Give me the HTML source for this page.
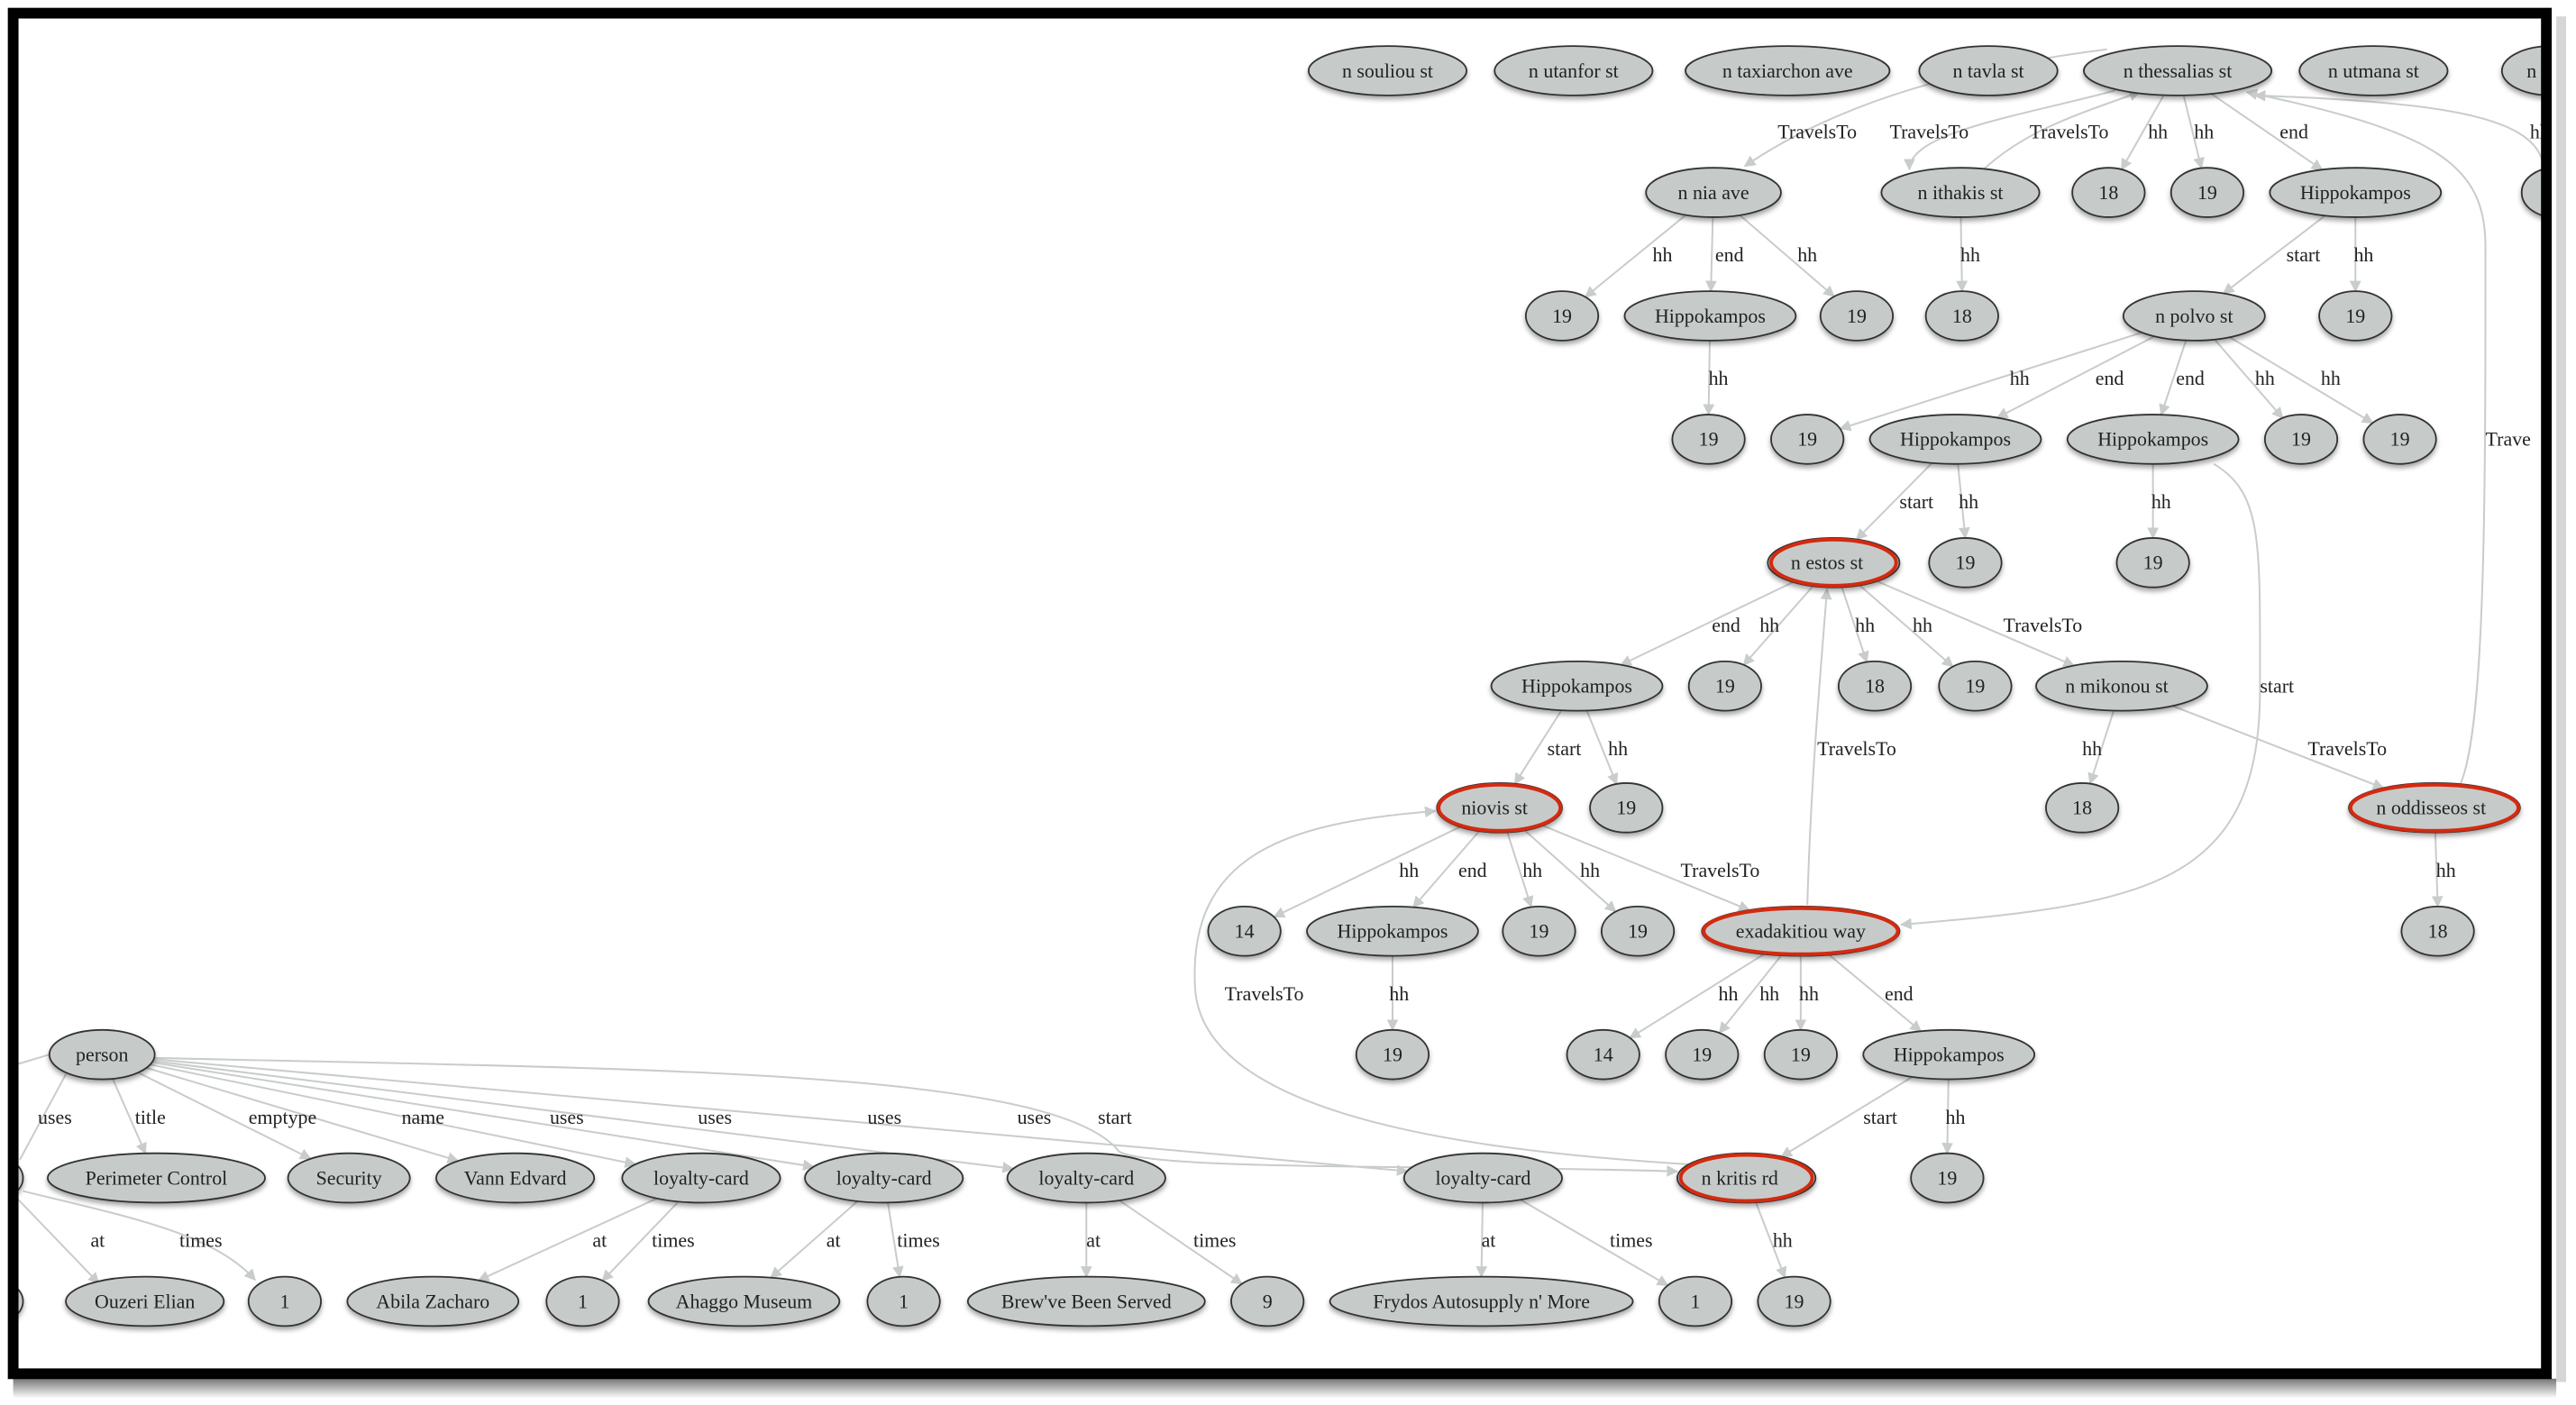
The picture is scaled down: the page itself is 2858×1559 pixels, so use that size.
<!DOCTYPE html>
<html><head><meta charset="utf-8"><style>
html,body{margin:0;padding:0;background:#fff;width:2858px;height:1559px;overflow:hidden}
svg{display:block}
.n ellipse.b{fill:#c6cbca;stroke:#333;stroke-width:1}
text{font-family:"Liberation Serif","DejaVu Serif",serif;font-size:12px;fill:#222}
.n text{text-anchor:middle}
.e,.s line{stroke:#c9cccc;stroke-width:1.1;fill:none}
</style></head><body>
<svg width="2858" height="1559" viewBox="0 0 1565 854" preserveAspectRatio="none" xmlns="http://www.w3.org/2000/svg">
<defs>
<marker id="a" viewBox="0 0 10 10" refX="9" refY="5" markerWidth="7" markerHeight="7" orient="auto" markerUnits="userSpaceOnUse"><path d="M0,0 L10,5 L0,10 z" fill="#c9cccc"/></marker>
<filter id="sh" x="-20%" y="-30%" width="140%" height="170%"><feDropShadow dx="0" dy="2" stdDeviation="1.5" flood-color="#000" flood-opacity="0.35"/></filter>
<clipPath id="cp"><rect x="11" y="11" width="1533" height="821"/></clipPath>
<linearGradient id="bs" x1="0" y1="0" x2="0" y2="1"><stop offset="0" stop-color="#777"/><stop offset="1" stop-color="#fff"/></linearGradient>
</defs>
<rect x="8" y="838" width="1545" height="12" fill="url(#bs)"/>
<rect x="1553" y="10" width="6" height="830" fill="#bbb" opacity="0.6"/>
<g clip-path="url(#cp)">
<g class="s" marker-end="url(#a)">
<line x1="1041" y1="117" x2="963.1" y2="180.5"/>
<line x1="1041" y1="117" x2="1039.4" y2="177"/>
<line x1="1041" y1="117" x2="1114.3" y2="180.2"/>
<line x1="1191" y1="117" x2="1192" y2="177"/>
<line x1="1323" y1="43" x2="1288.9" y2="103"/>
<line x1="1323" y1="43" x2="1337.4" y2="102.2"/>
<line x1="1323" y1="43" x2="1410.8" y2="103.2"/>
<line x1="1431" y1="117" x2="1350.8" y2="178.4"/>
<line x1="1431" y1="117" x2="1431" y2="177"/>
<line x1="1039" y1="192" x2="1038" y2="252"/>
<line x1="1333" y1="192" x2="1118" y2="260.6"/>
<line x1="1333" y1="192" x2="1213.4" y2="253.9"/>
<line x1="1333" y1="192" x2="1313" y2="252.1"/>
<line x1="1333" y1="192" x2="1386.8" y2="254.1"/>
<line x1="1333" y1="192" x2="1441.5" y2="257.1"/>
<line x1="1188" y1="267" x2="1127.9" y2="327.9"/>
<line x1="1188" y1="267" x2="1194" y2="327"/>
<line x1="1308" y1="267" x2="1308" y2="327"/>
<line x1="1114" y1="342" x2="984.7" y2="404.2"/>
<line x1="1114" y1="342" x2="1059.3" y2="404.2"/>
<line x1="1114" y1="342" x2="1134.1" y2="402.4"/>
<line x1="1114" y1="342" x2="1186.4" y2="405.2"/>
<line x1="1114" y1="342" x2="1260" y2="404.6"/>
<line x1="958" y1="417" x2="920.3" y2="476.4"/>
<line x1="958" y1="417" x2="982.1" y2="476.6"/>
<line x1="1289" y1="417" x2="1269.8" y2="476.3"/>
<line x1="1289" y1="417" x2="1448" y2="479"/>
<line x1="1479" y1="491" x2="1481" y2="551"/>
<line x1="911" y1="491" x2="774" y2="557.3"/>
<line x1="911" y1="491" x2="858.6" y2="551.4"/>
<line x1="911" y1="491" x2="930.2" y2="551.1"/>
<line x1="911" y1="491" x2="981.6" y2="554.1"/>
<line x1="911" y1="491" x2="1062.7" y2="553.2"/>
<line x1="846" y1="566" x2="846" y2="626"/>
<line x1="1094" y1="566" x2="990.2" y2="630.9"/>
<line x1="1094" y1="566" x2="1044.6" y2="627.8"/>
<line x1="1094" y1="566" x2="1094" y2="626"/>
<line x1="1094" y1="566" x2="1167" y2="626.8"/>
<line x1="1184" y1="641" x2="1082.2" y2="703.1"/>
<line x1="1184" y1="641" x2="1183" y2="701"/>
<line x1="1061" y1="716" x2="1084.4" y2="776.5"/>
<line x1="62" y1="641" x2="88.4" y2="701.1"/>
<line x1="62" y1="641" x2="188.7" y2="704.3"/>
<line x1="62" y1="641" x2="278.3" y2="705.6"/>
<line x1="62" y1="641" x2="386" y2="707.7"/>
<line x1="62" y1="641" x2="494.2" y2="709.2"/>
<line x1="62" y1="641" x2="615.4" y2="710.4"/>
<line x1="62" y1="641" x2="855" y2="711.9"/>
<line x1="426" y1="716" x2="290.7" y2="778.3"/>
<line x1="426" y1="716" x2="366" y2="778.5"/>
<line x1="537" y1="716" x2="468.3" y2="776.6"/>
<line x1="537" y1="716" x2="546.6" y2="776.1"/>
<line x1="660" y1="716" x2="660" y2="776"/>
<line x1="660" y1="716" x2="754.5" y2="780.4"/>
<line x1="901" y1="716" x2="900" y2="776"/>
<line x1="901" y1="716" x2="1013.2" y2="781.3"/>
</g>
<path class="e" d="M1280,30 C1200,40 1120,60 1060,101" marker-end="url(#a)"/>
<path class="e" d="M1285,55 C1230,70 1160,80 1160,103" marker-end="url(#a)"/>
<path class="e" d="M1205,103 C1230,80 1260,70 1300,56" marker-end="url(#a)"/>
<path class="e" d="M1545,100 C1540,70 1480,62 1370,58" marker-end="url(#a)"/>
<path class="e" d="M1495,476 C1510,440 1510,300 1510,150 C1510,100 1480,80 1365,56" marker-end="url(#a)"/>
<path class="e" d="M1345,282 C1375,300 1373,330 1373,420 C1373,540 1300,550 1155,562" marker-end="url(#a)"/>
<path class="e" d="M1098,550 C1100,480 1105,420 1110,358" marker-end="url(#a)"/>
<path class="e" d="M1030,708 C900,700 730,680 726,600 C722,520 780,500 872,493" marker-end="url(#a)"/>
<path class="e" d="M92,643 C400,650 640,650 680,700 C700,712 900,708 1019,712" marker-end="url(#a)"/>
<path class="e" d="M30,641 L0,650"/>
<path class="e" d="M40,653 L12,705"/>
<path class="e" d="M10,728 L60,780" marker-end="url(#a)"/>
<path class="e" d="M14,724 C80,740 130,750 155,778" marker-end="url(#a)"/>
<g class="n" filter="url(#sh)">
<ellipse class="b" cx="843" cy="43" rx="48" ry="15"/><ellipse class="b" cx="956" cy="43" rx="48" ry="15"/><ellipse class="b" cx="1086" cy="43" rx="62" ry="15"/><ellipse class="b" cx="1208" cy="43" rx="42" ry="15"/><ellipse class="b" cx="1323" cy="43" rx="57" ry="15"/><ellipse class="b" cx="1442" cy="43" rx="45" ry="15"/><ellipse class="b" cx="1550" cy="43" rx="30" ry="15"/>
<ellipse class="b" cx="1041" cy="117" rx="41" ry="15"/><ellipse class="b" cx="1191" cy="117" rx="48" ry="15"/><ellipse class="b" cx="1281" cy="117" rx="22" ry="15"/><ellipse class="b" cx="1341" cy="117" rx="22" ry="15"/><ellipse class="b" cx="1431" cy="117" rx="52" ry="15"/><ellipse class="b" cx="1552" cy="117" rx="20" ry="15"/>
<ellipse class="b" cx="949" cy="192" rx="22" ry="15"/><ellipse class="b" cx="1039" cy="192" rx="52" ry="15"/><ellipse class="b" cx="1128" cy="192" rx="22" ry="15"/><ellipse class="b" cx="1192" cy="192" rx="22" ry="15"/><ellipse class="b" cx="1333" cy="192" rx="43" ry="15"/><ellipse class="b" cx="1431" cy="192" rx="22" ry="15"/>
<ellipse class="b" cx="1038" cy="267" rx="22" ry="15"/><ellipse class="b" cx="1098" cy="267" rx="22" ry="15"/><ellipse class="b" cx="1188" cy="267" rx="52" ry="15"/><ellipse class="b" cx="1308" cy="267" rx="52" ry="15"/><ellipse class="b" cx="1398" cy="267" rx="22" ry="15"/><ellipse class="b" cx="1458" cy="267" rx="22" ry="15"/>
<ellipse class="b" cx="1114" cy="342" rx="40" ry="15"/><ellipse class="b" cx="1194" cy="342" rx="22" ry="15"/><ellipse class="b" cx="1308" cy="342" rx="22" ry="15"/>
<ellipse class="b" cx="958" cy="417" rx="52" ry="15"/><ellipse class="b" cx="1048" cy="417" rx="22" ry="15"/><ellipse class="b" cx="1139" cy="417" rx="22" ry="15"/><ellipse class="b" cx="1200" cy="417" rx="22" ry="15"/><ellipse class="b" cx="1289" cy="417" rx="52" ry="15"/>
<ellipse class="b" cx="911" cy="491" rx="38" ry="15"/><ellipse class="b" cx="988" cy="491" rx="22" ry="15"/><ellipse class="b" cx="1265" cy="491" rx="22" ry="15"/><ellipse class="b" cx="1479" cy="491" rx="52" ry="15"/>
<ellipse class="b" cx="756" cy="566" rx="22" ry="15"/><ellipse class="b" cx="846" cy="566" rx="52" ry="15"/><ellipse class="b" cx="935" cy="566" rx="22" ry="15"/><ellipse class="b" cx="995" cy="566" rx="22" ry="15"/><ellipse class="b" cx="1094" cy="566" rx="60" ry="15"/><ellipse class="b" cx="1481" cy="566" rx="22" ry="15"/>
<ellipse class="b" cx="62" cy="641" rx="32" ry="15"/><ellipse class="b" cx="846" cy="641" rx="22" ry="15"/><ellipse class="b" cx="974" cy="641" rx="22" ry="15"/><ellipse class="b" cx="1034" cy="641" rx="22" ry="15"/><ellipse class="b" cx="1094" cy="641" rx="22" ry="15"/><ellipse class="b" cx="1184" cy="641" rx="52" ry="15"/>
<ellipse class="b" cx="-10" cy="716" rx="24" ry="15"/><ellipse class="b" cx="95" cy="716" rx="66" ry="15"/><ellipse class="b" cx="212" cy="716" rx="37" ry="15"/><ellipse class="b" cx="313" cy="716" rx="48" ry="15"/><ellipse class="b" cx="426" cy="716" rx="48" ry="15"/><ellipse class="b" cx="537" cy="716" rx="48" ry="15"/><ellipse class="b" cx="660" cy="716" rx="48" ry="15"/><ellipse class="b" cx="901" cy="716" rx="48" ry="15"/><ellipse class="b" cx="1061" cy="716" rx="42" ry="15"/><ellipse class="b" cx="1183" cy="716" rx="22" ry="15"/>
<ellipse class="b" cx="-10" cy="791" rx="24" ry="15"/><ellipse class="b" cx="88" cy="791" rx="48" ry="15"/><ellipse class="b" cx="173" cy="791" rx="22" ry="15"/><ellipse class="b" cx="263" cy="791" rx="52" ry="15"/><ellipse class="b" cx="354" cy="791" rx="22" ry="15"/><ellipse class="b" cx="452" cy="791" rx="58" ry="15"/><ellipse class="b" cx="549" cy="791" rx="22" ry="15"/><ellipse class="b" cx="660" cy="791" rx="72" ry="15"/><ellipse class="b" cx="770" cy="791" rx="22" ry="15"/><ellipse class="b" cx="900" cy="791" rx="92" ry="15"/><ellipse class="b" cx="1030" cy="791" rx="22" ry="15"/><ellipse class="b" cx="1090" cy="791" rx="22" ry="15"/>
</g>
<g fill="none" stroke="#d42a10" stroke-width="2.2">
<ellipse cx="1114" cy="342" rx="38" ry="14"/><ellipse cx="911" cy="491" rx="37" ry="14"/><ellipse cx="1479" cy="491" rx="51" ry="14"/><ellipse cx="1094" cy="566" rx="59" ry="14"/><ellipse cx="1061" cy="716" rx="40" ry="14"/>
</g>
<g class="n">
<text x="843" y="47">n souliou st</text><text x="956" y="47">n utanfor st</text><text x="1086" y="47">n taxiarchon ave</text><text x="1208" y="47">n tavla st</text><text x="1323" y="47">n thessalias st</text><text x="1442" y="47">n utmana st</text><text x="1535" y="47" style="text-anchor:start">n ta</text>
<text x="1041" y="121">n nia ave</text><text x="1191" y="121">n ithakis st</text><text x="1281" y="121">18</text><text x="1341" y="121">19</text><text x="1431" y="121">Hippokampos</text>
<text x="949" y="196">19</text><text x="1039" y="196">Hippokampos</text><text x="1128" y="196">19</text><text x="1192" y="196">18</text><text x="1333" y="196">n polvo st</text><text x="1431" y="196">19</text>
<text x="1038" y="271">19</text><text x="1098" y="271">19</text><text x="1188" y="271">Hippokampos</text><text x="1308" y="271">Hippokampos</text><text x="1398" y="271">19</text><text x="1458" y="271">19</text>
<text x="1110" y="346">n estos st</text><text x="1194" y="346">19</text><text x="1308" y="346">19</text>
<text x="958" y="421">Hippokampos</text><text x="1048" y="421">19</text><text x="1139" y="421">18</text><text x="1200" y="421">19</text><text x="1286" y="421">n mikonou st</text>
<text x="908" y="495">niovis st</text><text x="988" y="495">19</text><text x="1265" y="495">18</text><text x="1477" y="495">n oddisseos st</text>
<text x="756" y="570">14</text><text x="846" y="570">Hippokampos</text><text x="935" y="570">19</text><text x="995" y="570">19</text><text x="1094" y="570">exadakitiou way</text><text x="1481" y="570">18</text>
<text x="62" y="645">person</text><text x="846" y="645">19</text><text x="974" y="645">14</text><text x="1034" y="645">19</text><text x="1094" y="645">19</text><text x="1184" y="645">Hippokampos</text>
<text x="95" y="720">Perimeter Control</text><text x="212" y="720">Security</text><text x="313" y="720">Vann Edvard</text><text x="426" y="720">loyalty-card</text><text x="537" y="720">loyalty-card</text><text x="660" y="720">loyalty-card</text><text x="901" y="720">loyalty-card</text><text x="1057" y="720">n kritis rd</text><text x="1183" y="720">19</text>
<text x="88" y="795">Ouzeri Elian</text><text x="173" y="795">1</text><text x="263" y="795">Abila Zacharo</text><text x="354" y="795">1</text><text x="452" y="795">Ahaggo Museum</text><text x="549" y="795">1</text><text x="660" y="795">Brew've Been Served</text><text x="770" y="795">9</text><text x="900" y="795">Frydos Autosupply n' More</text><text x="1030" y="795">1</text><text x="1090" y="795">19</text>
</g>
<g>
<text x="1080" y="84">TravelsTo</text><text x="1148" y="84">TravelsTo</text><text x="1233" y="84">TravelsTo</text><text x="1305" y="84">hh</text><text x="1333" y="84">hh</text><text x="1385" y="84">end</text><text x="1537" y="84">hh</text>
<text x="1004" y="159">hh</text><text x="1042" y="159">end</text><text x="1092" y="159">hh</text><text x="1191" y="159">hh</text><text x="1389" y="159">start</text><text x="1430" y="159">hh</text>
<text x="1038" y="234">hh</text><text x="1221" y="234">hh</text><text x="1273" y="234">end</text><text x="1322" y="234">end</text><text x="1370" y="234">hh</text><text x="1410" y="234">hh</text><text x="1510" y="271">Trave</text>
<text x="1154" y="309">start</text><text x="1190" y="309">hh</text><text x="1307" y="309">hh</text>
<text x="1040" y="384">end</text><text x="1069" y="384">hh</text><text x="1127" y="384">hh</text><text x="1162" y="384">hh</text><text x="1217" y="384">TravelsTo</text>
<text x="1373" y="421">start</text>
<text x="940" y="459">start</text><text x="977" y="459">hh</text><text x="1104" y="459">TravelsTo</text><text x="1265" y="459">hh</text><text x="1402" y="459">TravelsTo</text>
<text x="850" y="533">hh</text><text x="886" y="533">end</text><text x="925" y="533">hh</text><text x="960" y="533">hh</text><text x="1021" y="533">TravelsTo</text><text x="1480" y="533">hh</text>
<text x="744" y="608">TravelsTo</text><text x="844" y="608">hh</text><text x="1044" y="608">hh</text><text x="1069" y="608">hh</text><text x="1093" y="608">hh</text><text x="1145" y="608">end</text>
<text x="23" y="683">uses</text><text x="82" y="683">title</text><text x="151" y="683">emptype</text><text x="244" y="683">name</text><text x="334" y="683">uses</text><text x="424" y="683">uses</text><text x="527" y="683">uses</text><text x="618" y="683">uses</text><text x="667" y="683">start</text><text x="1132" y="683">start</text><text x="1182" y="683">hh</text>
<text x="55" y="758">at</text><text x="109" y="758">times</text><text x="360" y="758">at</text><text x="396" y="758">times</text><text x="502" y="758">at</text><text x="545" y="758">times</text><text x="660" y="758">at</text><text x="725" y="758">times</text><text x="900" y="758">at</text><text x="978" y="758">times</text><text x="1077" y="758">hh</text>
</g>
</g>
<rect x="8" y="8" width="1539" height="827" fill="none" stroke="#000" stroke-width="6.5"/>
</svg>
</body></html>
